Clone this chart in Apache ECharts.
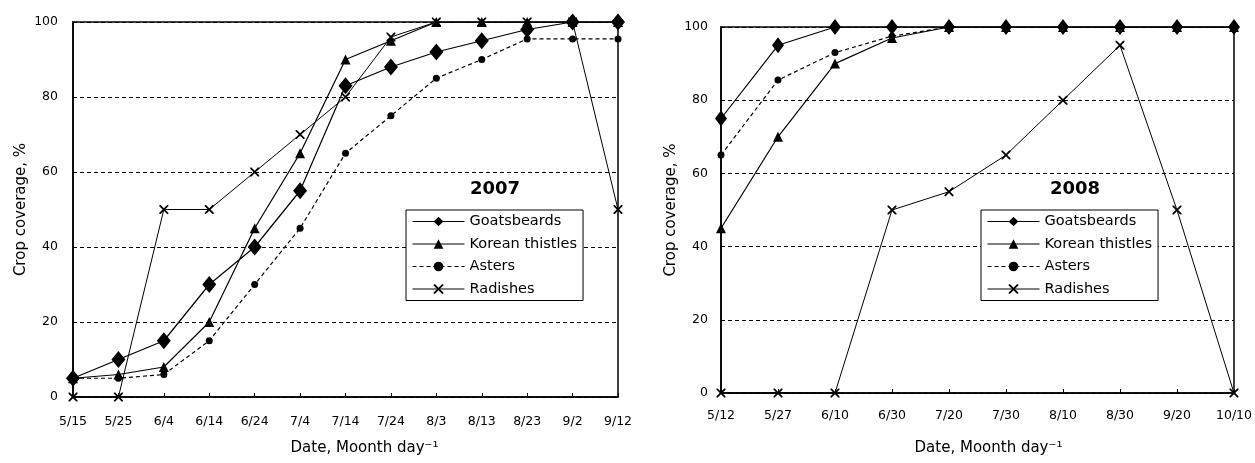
<!DOCTYPE html>
<html>
<head>
<meta charset="utf-8">
<script src="https://cdn.jsdelivr.net/npm/echarts@6/dist/echarts.min.js"></script>
<style>
html,body{margin:0;padding:0;background:#fff;}
#chart{width:1255px;height:463px;}
</style>
</head>
<body>
<div id="chart"></div>
<script>
const cats2007 = ['5/15','5/25','6/4','6/14','6/24','7/4','7/14','7/24','8/3','8/13','8/23','9/2','9/12'];
const goat2007 = [5,10,15,30,40,55,83,88,92,95,98,100,100];
const korean2007 = [5,6,8,20,45,65,90,95,100,100,100,100,100];
const asters2007 = [5,5,6,15,30,45,65,75,85,90,95.5,95.5,95.5];
const radish2007 = [0,0,50,50,60,70,80,96,100,100,100,100,50];

const cats2008 = ['5/12','5/27','6/10','6/30','7/20','7/30','8/10','8/30','9/20','10/10'];
const goat2008 = [75,95,100,100,100,100,100,100,100,100];
const korean2008 = [45,70,90,97,100,100,100,100,100,100];
const asters2008 = [65,85.5,93,97.5,100,100,100,100,100,100];
const radish2008 = [0,0,0,50,55,65,80,95,50,0];

const seriesNames = ['Goatsbeards','Korean thistles','Asters','Radishes'];
const yearTitles = ['2007','2008'];
const yName = 'Crop coverage, %';
const xName = 'Date, Moonth day\u207B\u00B9';

const FONT = '"DejaVu Sans", "Liberation Sans", Arial, sans-serif';
const X_SYMBOL = 'path://M0,0L1.4,0L5,3.6L8.6,0L10,0L10,1.4L6.4,5L10,8.6L10,10L8.6,10L5,6.4L1.4,10L0,10L0,8.6L3.6,5L0,1.4Z';

function makeSeries(idx, goat, korean, asters, radish, big) {
  const base = {type:'line', xAxisIndex: idx, yAxisIndex: idx, animation:false, showAllSymbol:true};
  return [
    Object.assign({}, base, {name: seriesNames[0], data: goat, symbol:'diamond', symbolSize: big ? [14,17] : [12,16], z:5,
      itemStyle:{color:'#000'}, lineStyle:{color:'#000', width:1.2}}),
    Object.assign({}, base, {name: seriesNames[1], data: korean, symbol:'triangle', symbolSize: 10, z:4,
      itemStyle:{color:'#000'}, lineStyle:{color:'#000', width:1.2}}),
    Object.assign({}, base, {name: seriesNames[2], data: asters, symbol:'circle', symbolSize: 7, z:3,
      itemStyle:{color:'#000'}, lineStyle:{color:'#000', width:1.2, type:[4,3]}}),
    Object.assign({}, base, {name: seriesNames[3], data: radish, symbol: X_SYMBOL, symbolSize: 9, z:2,
      itemStyle:{color:'#000'}, lineStyle:{color:'#000', width:1}})
  ];
}

function xAxis(idx, cats, gap) {
  return {
    type:'category', gridIndex: idx, data: cats, boundaryGap:false,
    name: xName, nameLocation:'middle', nameGap: gap,
    nameTextStyle:{fontSize:15, color:'#000', fontFamily:FONT, padding: idx === 0 ? [0,0,0,38] : [0,0,0,22]},
    axisLine:{lineStyle:{color:'#000', width:1.6}},
    axisTick:{inside:true, length:4, lineStyle:{color:'#000'}},
    axisLabel:{color:'#000', fontSize:12.5, fontFamily:FONT, margin: idx === 0 ? 18 : 16},
    splitLine:{show:false}
  };
}
function yAxis(idx, gap, margin) {
  return {
    type:'value', gridIndex: idx, min:0, max:100, interval:20,
    name: yName, nameLocation:'middle', nameGap: gap, nameRotate: 90,
    nameTextStyle:{fontSize:15, color:'#000', fontFamily:FONT},
    axisLine:{show:true, lineStyle:{color:'#000', width:1.6}},
    axisTick:{show:false},
    axisLabel:{color:'#000', fontSize:12.5, fontFamily:FONT, margin: margin},
    splitLine:{show:true, lineStyle:{color:'#000', width:1, type:[4,3]}}
  };
}
function legend(left) {
  return {
    data: seriesNames, orient:'vertical', left: left, top: 210,
    itemWidth: 52, itemHeight: 12, itemGap: 7.5, padding:[4,6],
    borderColor:'#000', borderWidth:1, backgroundColor:'#fff',
    selectedMode:false,
    lineStyle:{width:1},
    textStyle:{fontSize:14.5, color:'#000', fontFamily:FONT}
  };
}

const chart = echarts.init(document.getElementById('chart'), null, {renderer:'canvas'});
chart.setOption({
  backgroundColor:'#fff',
  animation:false,
  textStyle:{fontFamily:FONT},
  title:[
    {text: yearTitles[0], left: 470, top: 180, padding:0, textStyle:{fontSize:18, fontWeight:'bold', color:'#000', fontFamily:FONT}},
    {text: yearTitles[1], left: 1050, top: 180, padding:0, textStyle:{fontSize:18, fontWeight:'bold', color:'#000', fontFamily:FONT}}
  ],
  grid:[
    {left:73, top:22, width:545, height:375, show:true, borderColor:'#000', borderWidth:1.5, backgroundColor:'transparent'},
    {left:721, top:27, width:516, height:366, show:true, borderColor:'#000', borderWidth:1.5, backgroundColor:'transparent'}
  ],
  xAxis:[xAxis(0, cats2007, 44), xAxis(1, cats2008, 48)],
  yAxis:[yAxis(0, 44, 15), yAxis(1, 42, 13)],
  legend:[legend(406), legend(981)],
  series: makeSeries(0, goat2007, korean2007, asters2007, radish2007, true)
    .concat(makeSeries(1, goat2008, korean2008, asters2008, radish2008, false))
});
</script>
</body>
</html>
